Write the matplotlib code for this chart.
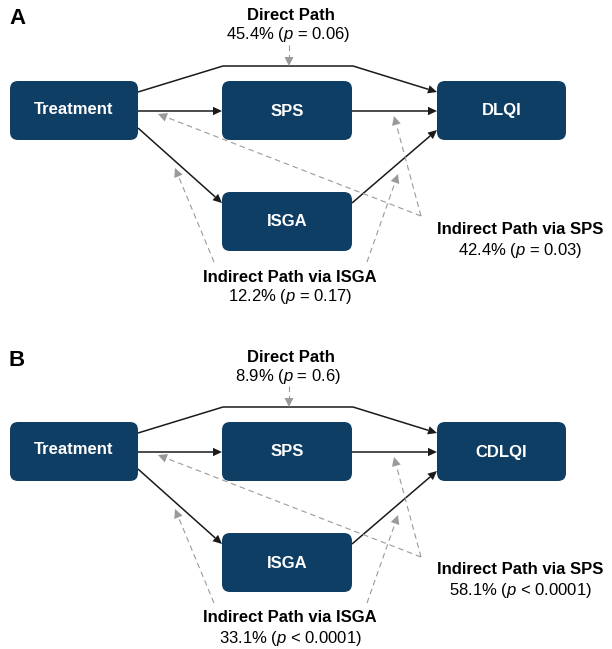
import numpy as np
import matplotlib.pyplot as plt
from matplotlib.patches import FancyBboxPatch, Polygon

plt.rcParams['font.family'] = ['Liberation Sans', 'DejaVu Sans']
plt.rcParams['mathtext.fontset'] = 'custom'
plt.rcParams['mathtext.rm'] = 'Liberation Sans'
plt.rcParams['mathtext.it'] = 'Liberation Sans:italic'

# Panel content
panel_letters = ['A', 'B']
outcomes = ['DLQI', 'CDLQI']
direct_values = ['45.4% ($\\it{p}$ = 0.06)', '8.9% ($\\it{p}$ = 0.6)']
sps_values = ['42.4% ($\\it{p}$ = 0.03)', '58.1% ($\\it{p}$ < 0.0001)']
isga_values = ['12.2% ($\\it{p}$ = 0.17)', '33.1% ($\\it{p}$ < 0.0001)']
panel_offsets = [0, 341]

box_color = '#0f3e65'
gray = '#9a9a9a'
fs = 12

fig = plt.figure(figsize=(6.12, 6.49), dpi=100)
ax = fig.add_axes([0, 0, 1, 1])
ax.set_xlim(0, 612)
ax.set_ylim(649, 0)
ax.axis('off')


def box(x0, y0, x1, y1, label, dy, ty=None):
    p = FancyBboxPatch((x0, y0 + dy), x1 - x0, y1 - y0,
                       boxstyle='round,pad=0,rounding_size=8',
                       fc=box_color, ec='none', zorder=3)
    ax.add_patch(p)
    ty = (y0 + y1) / 2 if ty is None else ty
    ax.text((x0 + x1) / 2, ty + dy, label, color='white',
            fontsize=fs, fontweight='bold', ha='center', va='center', zorder=4)


def arrow(pts, dy, color='#1a1a1a', dashed=False, hl=9, hw=4.2, lw=1.1):
    pts = np.array(pts, dtype=float)
    pts[:, 1] += dy
    tip = pts[-1]
    d = tip - pts[-2]
    d = d / np.hypot(*d)
    base = tip - d * hl
    n = np.array([-d[1], d[0]])
    line = np.vstack([pts[:-1], base])
    ax.plot(line[:, 0], line[:, 1], color=color, lw=lw,
            ls=(0, (5, 3.5)) if dashed else '-', zorder=2,
            solid_capstyle='butt', dash_capstyle='butt')
    ax.add_patch(Polygon([tip, base + n * hw, base - n * hw], closed=True,
                         fc=color, ec='none', zorder=2))


for letter, outcome, dv, sv, iv, dy in zip(panel_letters, outcomes, direct_values,
                                            sps_values, isga_values, panel_offsets):
    ax.text(9, 19 + dy, letter, fontsize=16, fontweight='bold', ha='left', va='center')

    box(10, 81, 138, 140, 'Treatment', dy, ty=109)
    box(222, 81, 352, 140, 'SPS', dy, ty=111)
    box(437, 81, 566, 140, outcome, dy, ty=111)
    box(222, 192, 352, 251, 'ISGA', dy, ty=222)

    # solid paths
    arrow([(138, 92), (223, 66), (353, 66), (437, 92)], dy)
    arrow([(138, 111), (222, 111)], dy)
    arrow([(352, 111), (437, 111)], dy)
    arrow([(138, 128), (222, 203)], dy)
    arrow([(352, 203), (437, 130)], dy)

    # dashed pointer arrows
    kw = dict(color=gray, dashed=True, lw=0.8, hl=9, hw=4.5)
    arrow([(289, 45), (289, 66)], dy, **kw)
    arrow([(421, 216), (158, 114)], dy, **kw)
    arrow([(421, 216), (394, 116)], dy, **kw)
    arrow([(214, 262), (175, 168)], dy, **kw)
    arrow([(367, 262), (398, 174)], dy, **kw)

    # labels
    ax.text(291, 16 + dy, 'Direct Path', fontsize=fs, fontweight='bold', ha='center', va='center')
    ax.text(288, 35 + dy, dv, fontsize=fs, ha='center', va='center')
    ax.text(520, 229 + dy, 'Indirect Path via SPS', fontsize=fs, fontweight='bold',
            ha='center', va='center')
    ax.text(520, 250 + dy, sv, fontsize=fs, ha='center', va='center')
    ax.text(290, 277 + dy, 'Indirect Path via ISGA', fontsize=fs, fontweight='bold',
            ha='center', va='center')
    ax.text(290, 297 + dy, iv, fontsize=fs, ha='center', va='center')

fig.savefig('out.png', dpi=100)
